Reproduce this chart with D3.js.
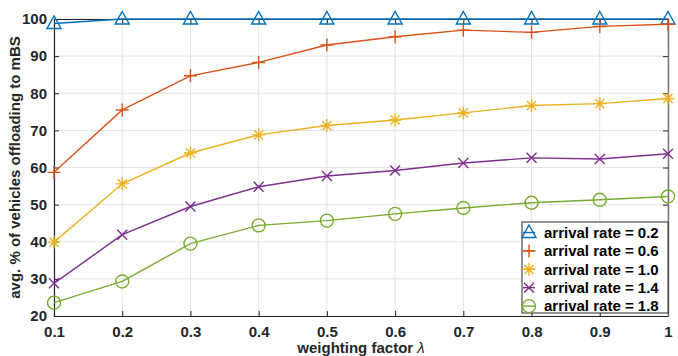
<!DOCTYPE html>
<html>
<head>
<meta charset="utf-8">
<script src="https://cdn.jsdelivr.net/npm/d3@7"></script>
<style>
  body { margin: 0; background: #fff; }
  svg { display: block; font-family: "Liberation Sans", Arial, sans-serif; }
</style>
</head>
<body>
<div id="viz"></div>
<script>
// weighting factor values on the x axis
const lambdas = [0.1, 0.2, 0.3, 0.4, 0.5, 0.6, 0.7, 0.8, 0.9, 1];
const xTicks = [0.1, 0.2, 0.3, 0.4, 0.5, 0.6, 0.7, 0.8, 0.9, 1];
const yTicks = [20, 30, 40, 50, 60, 70, 80, 90, 100];

const seriesNames = ["arrival rate = 0.2", "arrival rate = 0.6", "arrival rate = 1.0", "arrival rate = 1.4", "arrival rate = 1.8"];
const rate02 = [98.8, 100, 100, 100, 100, 100, 100, 100, 100, 100];
const rate06 = [58.7, 75.5, 84.7, 88.3, 93.0, 95.2, 97.0, 96.4, 98.0, 98.6];
const rate10 = [39.9, 55.6, 63.9, 68.8, 71.3, 72.8, 74.7, 76.7, 77.2, 78.6];
const rate14 = [28.8, 41.9, 49.5, 54.8, 57.7, 59.2, 61.2, 62.6, 62.3, 63.7];
const rate18 = [23.6, 29.3, 39.5, 44.4, 45.7, 47.5, 49.1, 50.5, 51.3, 52.2];

const colors = ["#0072BD", "#D95319", "#EDB120", "#7E2F8E", "#77AC30"];
const markers = ["triangle", "plus", "star", "cross", "circle"];
const allSeries = [rate02, rate06, rate10, rate14, rate18];

let W = 678, H = 356;
let margin = { top: 19, right: 10, bottom: 40, left: 54 };
let width = W - margin.left - margin.right;
let height = H - margin.top - margin.bottom;

let svg = d3.select("#viz").append("svg")
  .attr("width", W)
  .attr("height", H);

let g = svg.append("g")
  .attr("transform", `translate(${margin.left},${margin.top})`);

let xScale = d3.scaleLinear().domain([0.1, 1]).range([0, width]);
let yScale = d3.scaleLinear().domain([20, 100]).range([height, 0]);

// grid
g.append("g")
  .selectAll("line")
  .data(xTicks)
  .enter().append("line")
  .attr("x1", d => xScale(d)).attr("x2", d => xScale(d))
  .attr("y1", 0).attr("y2", height)
  .attr("stroke", "#e3e3e3").attr("stroke-width", 1);

g.append("g")
  .selectAll("line")
  .data(yTicks)
  .enter().append("line")
  .attr("x1", 0).attr("x2", width)
  .attr("y1", d => yScale(d)).attr("y2", d => yScale(d))
  .attr("stroke", "#e3e3e3").attr("stroke-width", 1);

// axes (ticks inside, like matlab)
let xAxis = g.append("g")
  .attr("transform", `translate(0,${height})`)
  .call(d3.axisBottom(xScale).tickValues(xTicks).tickSizeInner(-5).tickSizeOuter(0).tickPadding(10)
    .tickFormat(d => d === 1 ? "1" : d3.format(".1f")(d)));

let yAxis = g.append("g")
  .call(d3.axisLeft(yScale).tickValues(yTicks).tickSizeInner(-5).tickSizeOuter(0).tickPadding(7));

[xAxis, yAxis].forEach(a => {
  a.select(".domain").attr("stroke", "#262626").attr("stroke-width", 1.2);
  a.selectAll(".tick line").attr("stroke", "#262626");
  a.selectAll("text")
    .style("font-size", "15px")
    .style("font-weight", "bold")
    .attr("fill", "#262626");
});

// right + top box
let rightAxis = g.append("g")
  .attr("transform", `translate(${width},0)`)
  .call(d3.axisRight(yScale).tickValues(yTicks).tickSizeInner(-5).tickSizeOuter(0).tickFormat(""));
rightAxis.select(".domain").attr("stroke", "#777").attr("stroke-width", 1.5);
rightAxis.selectAll(".tick line").attr("stroke", "#262626");

let topAxis = g.append("g")
  .call(d3.axisTop(xScale).tickValues(xTicks).tickSizeInner(-5).tickSizeOuter(0).tickFormat(""));
topAxis.select(".domain").attr("stroke", "#262626");
topAxis.selectAll(".tick line").attr("stroke", "#262626");

// marker drawing
function drawMarker(sel, type, color) {
  if (type === "triangle") {
    sel.append("path").attr("d", "M0,-7.5 L7,5 L-7,5 Z")
      .attr("fill", "none").attr("stroke", color).attr("stroke-width", 1.4);
  } else if (type === "plus") {
    sel.append("path").attr("d", "M-6.5,0 H6.5 M0,-6.5 V6.5")
      .attr("stroke", color).attr("stroke-width", 1.4);
  } else if (type === "star") {
    sel.append("path").attr("d", "M-6.5,0 H6.5 M0,-6.5 V6.5 M-4.6,-4.6 L4.6,4.6 M-4.6,4.6 L4.6,-4.6")
      .attr("stroke", color).attr("stroke-width", 1.4);
  } else if (type === "cross") {
    sel.append("path").attr("d", "M-5,-5 L5,5 M-5,5 L5,-5")
      .attr("stroke", color).attr("stroke-width", 1.4);
  } else if (type === "circle") {
    sel.append("circle").attr("r", 6.5)
      .attr("fill", "none").attr("stroke", color).attr("stroke-width", 1.4);
  }
}

let line = d3.line()
  .x((d, i) => xScale(lambdas[i]))
  .y(d => yScale(d));

allSeries.forEach((vals, s) => {
  g.append("path")
    .datum(vals)
    .attr("fill", "none")
    .attr("stroke", colors[s])
    .attr("stroke-width", 1.4)
    .attr("d", line);

  g.append("g")
    .selectAll("g")
    .data(vals)
    .enter().append("g")
    .attr("transform", (d, i) => `translate(${xScale(lambdas[i])},${yScale(d)})`)
    .each(function() { drawMarker(d3.select(this), markers[s], colors[s]); });
});

// legend
let legend = g.append("g")
  .attr("transform", `translate(${width - 146},${203})`);

legend.append("rect")
  .attr("x", 0).attr("y", 0)
  .attr("width", 146).attr("height", 91)
  .attr("fill", "#fff")
  .attr("stroke", "#262626").attr("stroke-width", 1);

seriesNames.forEach((name, i) => {
  let row = legend.append("g")
    .attr("transform", `translate(0,${10.5 + i * 18.4})`);
  row.append("line")
    .attr("x1", 1).attr("x2", 13)
    .attr("stroke", colors[i]).attr("stroke-width", 1.4);
  let m = row.append("g").attr("transform", "translate(7,0)");
  drawMarker(m, markers[i], colors[i]);
  row.append("text")
    .attr("x", 22)
    .attr("y", 0)
    .attr("dy", "0.35em")
    .style("font-size", "15px")
    .style("font-weight", "bold")
    .attr("fill", "#000")
    .text(name);
});

// axis labels
let xl = svg.append("text")
  .attr("x", margin.left + width / 2)
  .attr("y", H - 3)
  .style("text-anchor", "middle")
  .style("font-size", "15px")
  .style("font-weight", "bold")
  .attr("fill", "#262626");
xl.append("tspan").text("weighting factor ");
xl.append("tspan").style("font-weight", "normal").style("font-style", "italic").text("λ");

svg.append("text")
  .attr("transform", "rotate(-90)")
  .attr("x", -(margin.top + height / 2))
  .attr("y", 20)
  .style("text-anchor", "middle")
  .style("font-size", "15px")
  .style("font-weight", "bold")
  .attr("fill", "#262626")
  .text("avg. % of vehicles offloading to mBS");
</script>
</body>
</html>
